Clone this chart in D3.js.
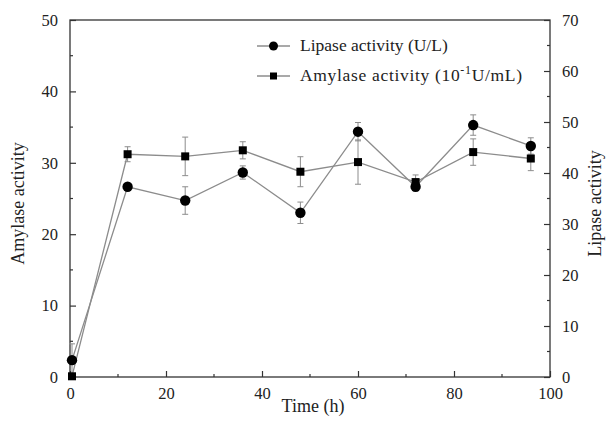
<!DOCTYPE html>
<html><head><meta charset="utf-8">
<script src="https://cdn.jsdelivr.net/npm/d3@7"></script>
<style>body{margin:0;background:#fff}svg{display:block}text{font-family:"Liberation Serif","Times New Roman",serif}</style>
</head><body><svg id="c" width="610" height="435"></svg>
<script>
const time = [0, 12, 24, 36, 48, 60, 72, 84, 96];
const lipase = [3.3, 37.3, 34.6, 40.1, 32.2, 48.1, 37.3, 49.4, 45.3];
const lipaseErr = [3.2, 0.6, 2.7, 1.3, 2.1, 1.8, 0.8, 2.0, 1.6];
const amylase = [0.1, 31.2, 30.9, 31.75, 28.75, 30.1, 27.3, 31.5, 30.6];
const amylaseErr = [0.2, 1.05, 2.7, 1.2, 2.1, 3.1, 1.0, 1.85, 1.7];
const xTicks = [0, 20, 40, 60, 80, 100];
const leftTicks = [0, 10, 20, 30, 40, 50];
const rightTicks = [0, 10, 20, 30, 40, 50, 60, 70];

const svg = d3.select("#c");
const m = {l: 70, r: 550, t: 20, b: 377};
const x = d3.scaleLinear().domain([0, 100]).range([m.l, m.r]);
const yL = d3.scaleLinear().domain([0, 50]).range([m.b, m.t]);
const yR = d3.scaleLinear().domain([0, 70]).range([m.b, m.t]);
const lineCol = "#8c8c8c";

svg.append("rect").attr("x", m.l).attr("y", m.t).attr("width", m.r - m.l).attr("height", m.b - m.t)
  .attr("fill", "none").attr("stroke", "#333").attr("stroke-width", 1.3);

function styleAxis(g){
  g.attr("font-size", null).attr("font-family", null);
  g.select(".domain").remove();
  g.selectAll(".tick line").attr("stroke", "#333").attr("stroke-width", 1.2);
  g.selectAll(".tick text").attr("fill", "#222").style("font-size", "16.5px");
}
const minor = (scale, vals, orient, len) => {
  vals.forEach(v => {
    if (orient === "b") svg.append("line").attr("x1", scale(v)).attr("x2", scale(v)).attr("y1", m.b).attr("y2", m.b - len).attr("stroke", "#333").attr("stroke-width", 1.2);
    if (orient === "l") svg.append("line").attr("y1", scale(v)).attr("y2", scale(v)).attr("x1", m.l).attr("x2", m.l + len).attr("stroke", "#333").attr("stroke-width", 1.2);
    if (orient === "r") svg.append("line").attr("y1", scale(v)).attr("y2", scale(v)).attr("x1", m.r).attr("x2", m.r - len).attr("stroke", "#333").attr("stroke-width", 1.2);
  });
};
minor(x, d3.range(10, 100, 20), "b", 3);
minor(yL, d3.range(5, 50, 10), "l", 3);
minor(yR, d3.range(5, 70, 10), "r", 3);

svg.append("g").attr("transform", `translate(0,${m.b})`)
  .call(d3.axisBottom(x).tickValues(xTicks).tickSize(-6).tickPadding(10).tickFormat(d3.format("d"))).call(styleAxis);
svg.append("g").attr("transform", `translate(${m.l},0)`)
  .call(d3.axisLeft(yL).tickValues(leftTicks).tickSize(-6).tickPadding(12).tickFormat(d3.format("d"))).call(styleAxis);
svg.append("g").attr("transform", `translate(${m.r},0)`)
  .call(d3.axisRight(yR).tickValues(rightTicks).tickSize(-6).tickPadding(12).tickFormat(d3.format("d"))).call(styleAxis);

svg.append("text").attr("x", (m.l + m.r) / 2 + 3).attr("y", 412).attr("text-anchor", "middle")
  .style("font-size", "18px").attr("fill", "#222").text("Time (h)");
svg.append("text").attr("transform", `translate(24,${(m.t + m.b) / 2 + 5}) rotate(-90)`).attr("text-anchor", "middle")
  .style("font-size", "18px").attr("fill", "#222").text("Amylase activity");
svg.append("text").attr("transform", `translate(601,${(m.t + m.b) / 2 + 5}) rotate(-90)`).attr("text-anchor", "middle")
  .style("font-size", "18px").attr("fill", "#222").text("Lipase activity");

const dL = time.map((t, i) => ({t, v: lipase[i], e: lipaseErr[i]}));
const dA = time.map((t, i) => ({t, v: amylase[i], e: amylaseErr[i]}));

function errBars(data, y){
  const g = svg.append("g").attr("stroke", lineCol).attr("stroke-width", 1);
  data.forEach(d => {
    const cx = x(d.t) + (d.t === 0 ? 2 : 0), y1 = y(Math.max(0, d.v - d.e)), y2 = y(d.v + d.e);
    g.append("line").attr("x1", cx).attr("x2", cx).attr("y1", y1).attr("y2", y2);
    g.append("line").attr("x1", cx - 3).attr("x2", cx + 3).attr("y1", y1).attr("y2", y1);
    g.append("line").attr("x1", cx - 3).attr("x2", cx + 3).attr("y1", y2).attr("y2", y2);
  });
}
errBars(dA, yL);
errBars(dL, yR);

const px = d => x(d.t) + (d.t === 0 ? 2 : 0);
svg.append("path").datum(dA).attr("fill", "none").attr("stroke", lineCol).attr("stroke-width", 1.3)
  .attr("d", d3.line().x(px).y(d => yL(d.v)));
svg.append("path").datum(dL).attr("fill", "none").attr("stroke", lineCol).attr("stroke-width", 1.3)
  .attr("d", d3.line().x(px).y(d => yR(d.v)));

svg.selectAll(".sq").data(dA).enter().append("rect")
  .attr("x", d => px(d) - 4).attr("y", d => yL(d.v) - 4).attr("width", 8).attr("height", 8).attr("fill", "#000");
svg.selectAll(".ci").data(dL).enter().append("circle")
  .attr("cx", px).attr("cy", d => yR(d.v)).attr("r", 5.2).attr("fill", "#000");

const lg = svg.append("g");
[[0, "circle", "Lipase activity (U/L)"], [1, "square", null]].forEach(([i, shape, label]) => {
  const yy = 46 + i * 30;
  lg.append("line").attr("x1", 257).attr("x2", 290).attr("y1", yy).attr("y2", yy).attr("stroke", lineCol).attr("stroke-width", 1.3);
  if (shape === "circle") lg.append("circle").attr("cx", 273.5).attr("cy", yy).attr("r", 4.5).attr("fill", "#000");
  else lg.append("rect").attr("x", 270).attr("y", yy - 3.5).attr("width", 7).attr("height", 7).attr("fill", "#000");
  const t = lg.append("text").attr("x", 300).attr("y", yy + 5).style("font-size", "17.5px").attr("fill", "#222");
  if (label) t.text(label);
  else {
    t.append("tspan").text("Amylase activity (10");
    t.append("tspan").attr("dy", -7).style("font-size", "12px").text("-1");
    t.append("tspan").attr("dy", 7).text("U/mL)");
    t.attr("textLength", 222).attr("lengthAdjust", "spacing");
  }
});
</script></body></html>
